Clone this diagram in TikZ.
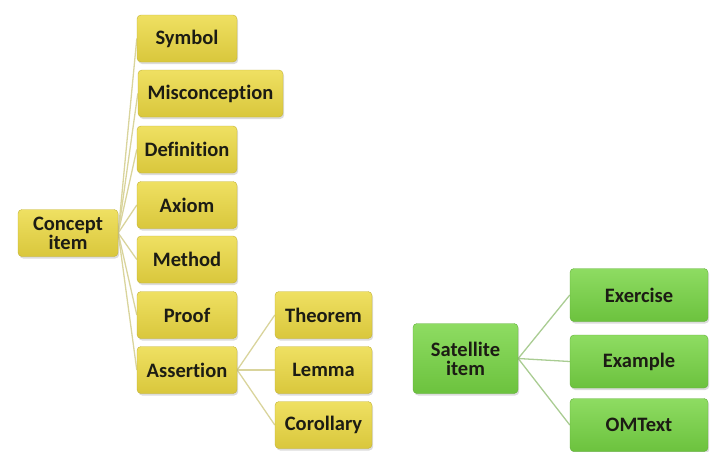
\documentclass[tikz,border=0pt]{standalone}
\usepackage{fontspec}
\setmainfont{Carlito}[RawFeature={-liga}]
\usetikzlibrary{shadows}
\definecolor{yelA}{HTML}{EFE062}
\definecolor{yelB}{HTML}{D9C73C}
\definecolor{grnA}{HTML}{8EDC62}
\definecolor{grnB}{HTML}{6CC23E}
\definecolor{ylink}{HTML}{D9D49C}
\definecolor{glink}{HTML}{A9CC92}
\definecolor{txt}{HTML}{1C1C14}
\pgfdeclarelayer{bg}
\pgfsetlayers{bg,main}
\tikzset{
  x=1pt, y=-1pt,
  box/.style={rounded corners=4pt, align=center, font=\fontsize{20.5}{20}\selectfont\bfseries,
    text=txt, inner sep=0pt,
    drop shadow={opacity=0.28, shadow xshift=1.2pt, shadow yshift=-2pt}},
  ybox/.style={box, top color=yelA, bottom color=yelB, draw=yelB!90!black, line width=0.4pt,
    minimum height=47pt},
  gbox/.style={box, top color=grnA, bottom color=grnB, draw=grnB!90!black, line width=0.4pt,
    minimum height=53pt},
  ylinkst/.style={draw=ylink, line width=1.3pt},
  glinkst/.style={draw=glink, line width=1.3pt}
}
\begin{document}
\begin{tikzpicture}
\useasboundingbox (0,0) rectangle (714,451);
% nodes
\node[ybox, minimum width=100pt] (concept) at (68,233) {Concept\\[-1pt]item};
\node[ybox, minimum width=100pt] (symbol) at (187,38.5) {Symbol};
\node[ybox, minimum width=145pt] (miscon) at (210.5,93.5) {Misconception};
\node[ybox, minimum width=100pt] (defin) at (187,149.5) {Definition};
\node[ybox, minimum width=100pt] (axiom) at (187,205) {Axiom};
\node[ybox, minimum width=100pt] (method) at (187,259.5) {Method};
\node[ybox, minimum width=100pt] (proof) at (187,315) {Proof};
\node[ybox, minimum width=100pt] (assert) at (187,370) {Assertion};
\node[ybox, minimum width=97pt] (theorem) at (323.5,315) {Theorem};
\node[ybox, minimum width=97pt] (lemma) at (323.5,370) {Lemma};
\node[ybox, minimum width=97pt] (coroll) at (323.5,425) {Corollary};
\node[gbox, minimum width=105pt, minimum height=70pt] (sat) at (465.5,358.5) {Satellite\\[-1pt]item};
\node[gbox, minimum width=138pt] (exer) at (639,295) {Exercise};
\node[gbox, minimum width=138pt] (examp) at (639,361.5) {Example};
\node[gbox, minimum width=138pt] (omtext) at (639,425) {OMText};
% connectors (behind boxes)
\begin{pgfonlayer}{bg}
\foreach \c in {symbol,miscon,defin,axiom,method,proof,assert}
  \draw[ylinkst] (concept.east) -- (\c.west);
\foreach \c in {theorem,lemma,coroll}
  \draw[ylinkst] (assert.east) -- (\c.west);
\foreach \c in {exer,examp,omtext}
  \draw[glinkst] (sat.east) -- (\c.west);
\end{pgfonlayer}
\end{tikzpicture}
\end{document}
